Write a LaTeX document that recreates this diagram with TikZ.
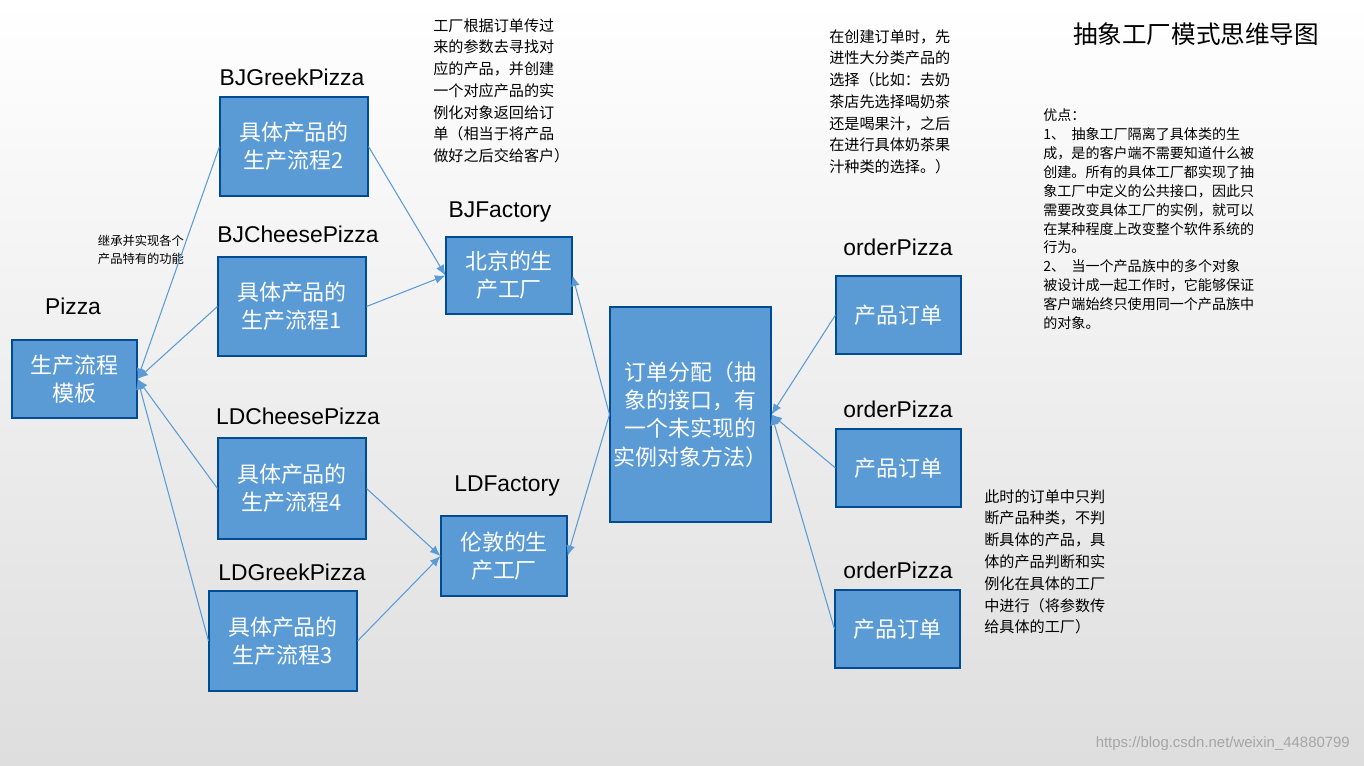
\documentclass[tikz,border=0pt]{standalone}
\usepackage{fontspec}
\setmainfont{Noto Sans CJK SC}
\newfontfamily\latf{Liberation Sans}
\begin{document}
\begin{tikzpicture}[x=0.02cm,y=-0.02cm,
 box/.style={draw=blue!40!black!70!cyan,line width=0.6pt,fill={rgb,255:red,91;green,155;blue,213},text=white,font=\fontsize{12.5}{16}\selectfont,align=center,inner sep=0pt},
 lab/.style={font=\latf\fontsize{13}{15}\selectfont},
 note/.style={font=\fontsize{8.6}{12.4}\selectfont,align=left,anchor=north west,inner sep=0pt},
 arr/.style={draw={rgb,255:red,91;green,155;blue,213},line width=0.6pt,-{Latex[length=6pt,width=5pt]}}]
\usetikzlibrary{arrows.meta}
\shade[top color=white,bottom color=black!13] (0,0) rectangle (1364,765);
\useasboundingbox (0,0) rectangle (1364,765);
\newcommand\bx[6]{\node[box,minimum width={(#4-#2)*0.02cm},minimum height={(#5-#3)*0.02cm}] (#1) at ({(#2+#4)/2},{(#3+#5)/2}) {#6};}
\bx{pz}{12}{340}{137}{418}{生产流程\\模板}
\bx{bg}{220}{97}{368}{196}{具体产品的\\生产流程2}
\bx{bc}{218}{257}{366}{356}{具体产品的\\生产流程1}
\bx{lc}{218}{438}{366}{539}{具体产品的\\生产流程4}
\bx{lg}{209}{591}{357}{691}{具体产品的\\生产流程3}
\bx{bf}{446}{237}{572}{314}{北京的生\\产工厂}
\bx{lf}{441}{516}{567}{596}{伦敦的生\\产工厂}
\bx{dp}{610}{307}{771}{522}{订单分配（抽\\象的接口，有\\一个未实现的\\实例对象方法）}
\bx{o1}{836}{276}{961}{354}{产品订单}
\bx{o2}{836}{429}{961}{507}{产品订单}
\bx{o3}{835}{590}{960}{668}{产品订单}
\node[lab] (t1) at (73,306) {Pizza};
\node[lab] (t2) at (292,77) {BJGreekPizza};
\node[lab] (t3) at (298,234) {BJCheesePizza};
\node[lab] (t4) at (298,416) {LDCheesePizza};
\node[lab] (t5) at (292,572) {LDGreekPizza};
\node[lab] (t6) at (500,212) {BJFactory};
\node[lab] (t7) at (507,486) {LDFactory};
\node[lab] (t8) at (898,247) {orderPizza};
\node[lab] (t9) at (898,409) {orderPizza};
\node[lab] (t10) at (898,570) {orderPizza};
\node[font=\fontsize{14}{16}\selectfont] (ti) at (1196,34) {抽象工厂模式思维导图};
\node[font=\fontsize{7}{10}\selectfont,align=left] (n0) at (141,250) {继承并实现各个\\产品特有的功能};
\node[note] (n1) at (433,18) {工厂根据订单传过\\来的参数去寻找对\\应的产品，并创建\\一个对应产品的实\\例化对象返回给订\\单（相当于将产品\\做好之后交给客户）};
\node[note] (n2) at (829,29) {在创建订单时，先\\进性大分类产品的\\选择（比如：去奶\\茶店先选择喝奶茶\\还是喝果汁，之后\\在进行具体奶茶果\\汁种类的选择。）};
\node[note] (n3) at (984,489) {此时的订单中只判\\断产品种类，不判\\断具体的产品，具\\体的产品判断和实\\例化在具体的工厂\\中进行（将参数传\\给具体的工厂）};
\node[note,font=\fontsize{8}{10.8}\selectfont] (n4) at (1043,108) {优点：\\1、\ \ 抽象工厂隔离了具体类的生\\成，是的客户端不需要知道什么被\\创建。所有的具体工厂都实现了抽\\象工厂中定义的公共接口，因此只\\需要改变具体工厂的实例，就可以\\在某种程度上改变整个软件系统的\\行为。\\2、\ \ 当一个产品族中的多个对象\\被设计成一起工作时，它能够保证\\客户端始终只使用同一个产品族中\\的对象。};
\node[font=\latf\fontsize{8.5}{10}\selectfont,text=black!35,anchor=south east] (wm) at (1356,757) {https://blog.csdn.net/weixin\_44880799};
\foreach \s in {bg,bc,lc,lg} \draw[arr] (\s.west) -- (pz.east);
\draw[arr] (bg.east) -- (bf.west);
\draw[arr] (bc.east) -- (bf.west);
\draw[arr] (lc.east) -- (lf.west);
\draw[arr] (lg.east) -- (lf.west);
\draw[arr] (dp.west) -- (bf.east);
\draw[arr] (dp.west) -- (lf.east);
\foreach \s in {o1,o2,o3} \draw[arr] (\s.west) -- (dp.east);
\end{tikzpicture}
\end{document}
